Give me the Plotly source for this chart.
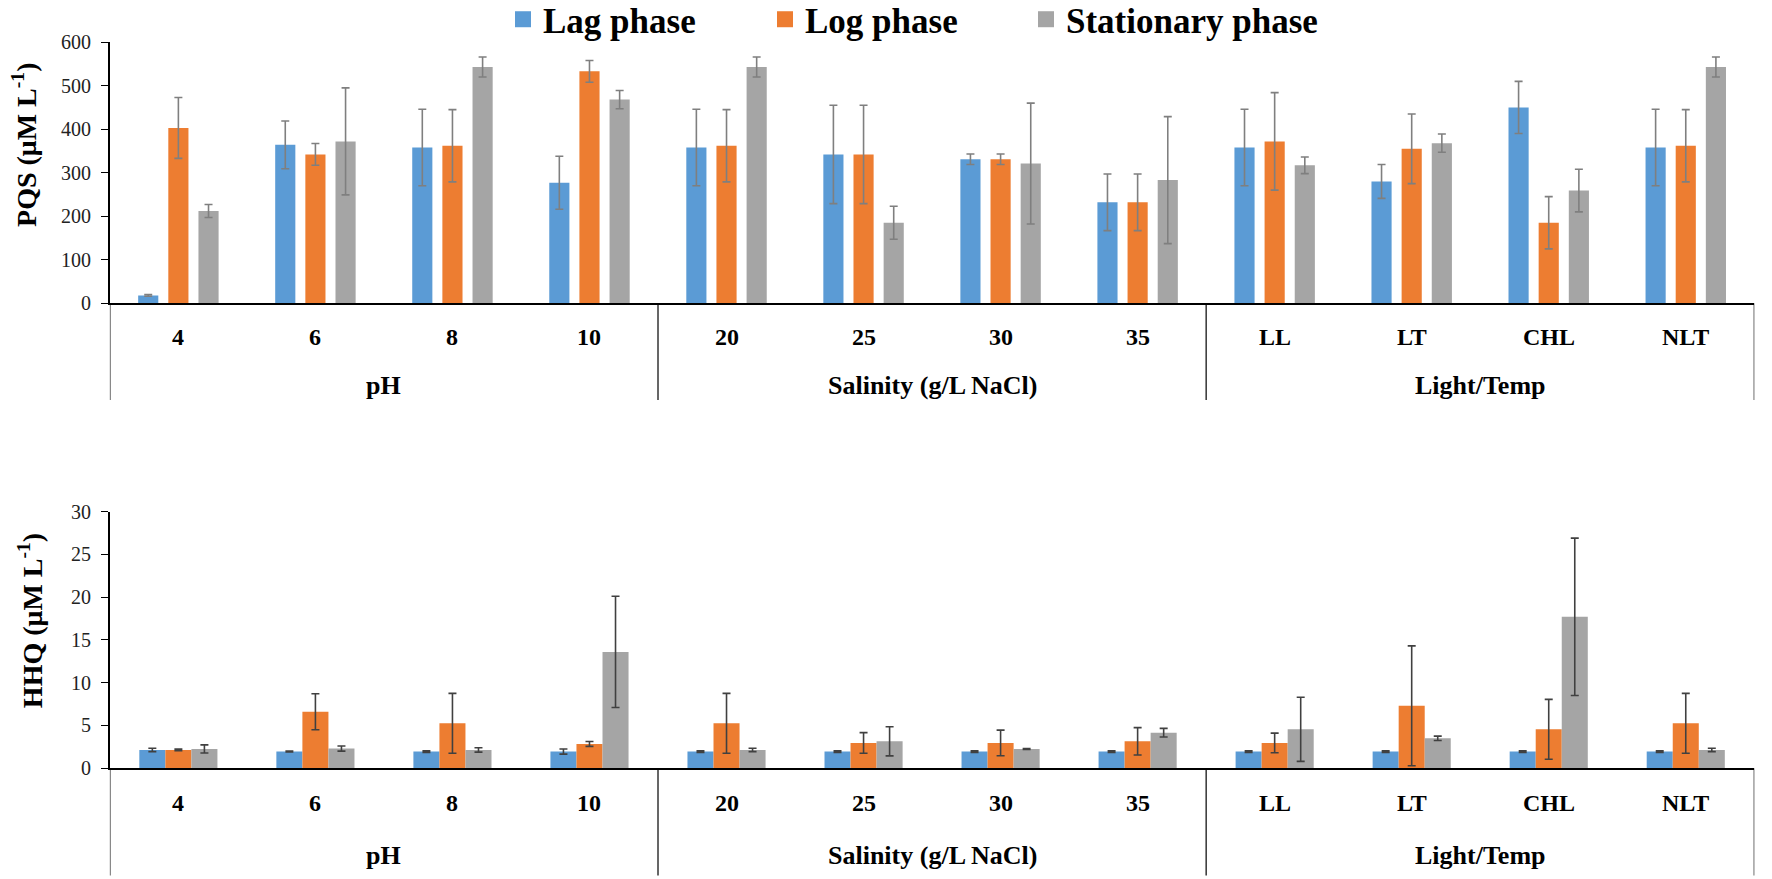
import plotly.graph_objects as go

# categories (12 conditions in 3 groups)
categories = ["4", "6", "8", "10", "20", "25", "30", "35", "LL", "LT", "CHL", "NLT"]
groups = ["pH", "Salinity (g/L NaCl)", "Light/Temp"]
group_size = 4
phases = ["Lag phase", "Log phase", "Stationary phase"]
colors = ["#5B9BD5", "#ED7D31", "#A5A5A5"]

# PQS (uM/L)
pqs_lag = [18, 364, 358, 277, 358, 342, 331, 232, 358, 280, 450, 358]
pqs_log = [403, 342, 362, 533, 362, 342, 331, 232, 372, 355, 185, 362]
pqs_stat = [212, 372, 543, 468, 543, 185, 321, 283, 317, 368, 259, 543]
pqs_lag_err = [2, 55, 88, 61, 88, 113, 12, 65, 88, 39, 60, 88]
pqs_log_err = [70, 25, 83, 25, 83, 113, 12, 65, 112, 80, 60, 83]
pqs_stat_err = [15, 123, 23, 21, 23, 38, 139, 146, 19, 21, 49, 23]

# HHQ (uM/L)
hhq_lag = [2.14, 1.95, 1.95, 1.95, 1.95, 1.95, 1.95, 1.95, 1.95, 1.95, 1.95, 1.95]
hhq_log = [2.14, 6.6, 5.25, 2.84, 5.25, 2.96, 2.96, 3.15, 2.96, 7.3, 4.55, 5.25]
hhq_stat = [2.26, 2.3, 2.14, 13.6, 2.14, 3.15, 2.26, 4.16, 4.55, 3.5, 17.7, 2.14]
hhq_lag_err = [0.2, 0.05, 0.1, 0.3, 0.1, 0.1, 0.1, 0.1, 0.1, 0.1, 0.1, 0.1]
hhq_log_err = [0.1, 2.1, 3.5, 0.28, 3.5, 1.2, 1.5, 1.6, 1.15, 7.0, 3.5, 3.5]
hhq_stat_err = [0.47, 0.3, 0.25, 6.5, 0.2, 1.7, 0.05, 0.5, 3.75, 0.25, 9.2, 0.2]

pqs = [(pqs_lag, pqs_lag_err), (pqs_log, pqs_log_err), (pqs_stat, pqs_stat_err)]
hhq = [(hhq_lag, hhq_lag_err), (hhq_log, hhq_log_err), (hhq_stat, hhq_stat_err)]

xpos = list(range(len(categories)))
serif = "Liberation Serif"

fig = go.Figure()

# top panel bars (gaps between bars)
top_w = 0.147
top_step = 0.22
for i, (vals, errs) in enumerate(pqs):
    fig.add_trace(go.Bar(
        x=xpos, y=vals, name=phases[i], showlegend=False,
        width=top_w, offset=(i - 1) * top_step - top_w / 2,
        marker=dict(color=colors[i], line=dict(width=0)),
        error_y=dict(type="data", array=errs, color="#7F7F7F", thickness=1.6, width=4),
        xaxis="x", yaxis="y",
    ))

# bottom panel bars (touching)
bot_w = 0.19
for i, (vals, errs) in enumerate(hhq):
    fig.add_trace(go.Bar(
        x=xpos, y=vals, name=phases[i], showlegend=False,
        width=bot_w, offset=(i - 1) * bot_w - bot_w / 2,
        marker=dict(color=colors[i], line=dict(width=0)),
        error_y=dict(type="data", array=errs, color="#404040", thickness=1.6, width=4),
        xaxis="x2", yaxis="y2",
    ))

# legend entries (square markers), one legend box per phase
legend_names = ["legend", "legend2", "legend3"]
for i in range(3):
    fig.add_trace(go.Scatter(
        x=[None], y=[None], mode="markers", name=phases[i], legend=legend_names[i],
        marker=dict(symbol="square", size=17, color=colors[i]),
        xaxis="x", yaxis="y",
    ))

top_dom = [0.655, 0.952]
bot_dom = [0.126, 0.418]

xcommon = dict(range=[-0.5, 11.5], showticklabels=False, ticks="", showgrid=False,
               zeroline=False, showline=True, linecolor="black", linewidth=2)
ycommon = dict(showgrid=False, zeroline=False, showline=True, linecolor="black", linewidth=1.5,
               ticks="outside", ticklen=7, tickcolor="black", ticklabelstandoff=6,
               tickfont=dict(family=serif, size=20, color="#222222"))

legend_x = [503, 765, 1026]
legend_style = dict(orientation="h", xanchor="left", y=1.0114, yanchor="top",
                    font=dict(family=serif, size=35, color="black", weight="bold"),
                    bgcolor="rgba(0,0,0,0)")

fig.update_layout(
    width=1772, height=879,
    margin=dict(l=0, r=0, t=0, b=0, autoexpand=False),
    paper_bgcolor="white", plot_bgcolor="white",
    barmode="overlay",
    xaxis=dict(domain=[0.062, 0.990], anchor="y", **xcommon),
    yaxis=dict(domain=top_dom, anchor="x", range=[0, 600], dtick=100, **ycommon),
    xaxis2=dict(domain=[0.062, 0.990], anchor="y2", **xcommon),
    yaxis2=dict(domain=bot_dom, anchor="x2", range=[0, 30], dtick=5, **ycommon),
    legend=dict(x=legend_x[0] / 1772, **legend_style),
    legend2=dict(x=legend_x[1] / 1772, **legend_style),
    legend3=dict(x=legend_x[2] / 1772, **legend_style),
    font=dict(family=serif),
)

# category box: labels and divider lines
panels = [("x", top_dom[0], 0.6166, 0.5620, 0.545), ("x2", bot_dom[0], 0.0865, 0.027, 0.004)]
for xref, ybase, ycat, ygrp, ybot in panels:
    for k, cat in enumerate(categories):
        fig.add_annotation(x=xpos[k], y=ycat, xref=xref, yref="paper", text="<b>%s</b>" % cat,
                           xanchor="center", yanchor="middle", showarrow=False,
                           font=dict(family=serif, size=24, color="black"))
    for g, name in enumerate(groups):
        center = g * group_size + (group_size - 1) / 2
        fig.add_annotation(x=center, y=ygrp, xref=xref, yref="paper", text="<b>%s</b>" % name,
                           xanchor="center", yanchor="middle", showarrow=False,
                           font=dict(family=serif, size=26, color="black"))
    for g in range(len(groups) + 1):
        xb = g * group_size - 0.5
        fig.add_shape(type="line", xref=xref, yref="paper", x0=xb, x1=xb, y0=ybase, y1=ybot,
                      line=dict(color="black", width=1.2))

# y axis titles
fig.add_annotation(x=0.0135, y=0.835, xref="paper", yref="paper", textangle=-90,
                   xanchor="center", yanchor="middle",
                   text="<b>PQS (μM L<sup>-1</sup>)</b>", showarrow=False,
                   font=dict(family=serif, size=28, color="black"))
fig.add_annotation(x=0.017, y=0.2935, xref="paper", yref="paper", textangle=-90,
                   xanchor="center", yanchor="middle",
                   text="<b>HHQ (μM L<sup>-1</sup>)</b>", showarrow=False,
                   font=dict(family=serif, size=28, color="black"))

# page body margin off so the figure sits at the window corner
fig.write_html("out.html", config={"displayModeBar": False},
               post_script="document.body.style.margin='0px';")
